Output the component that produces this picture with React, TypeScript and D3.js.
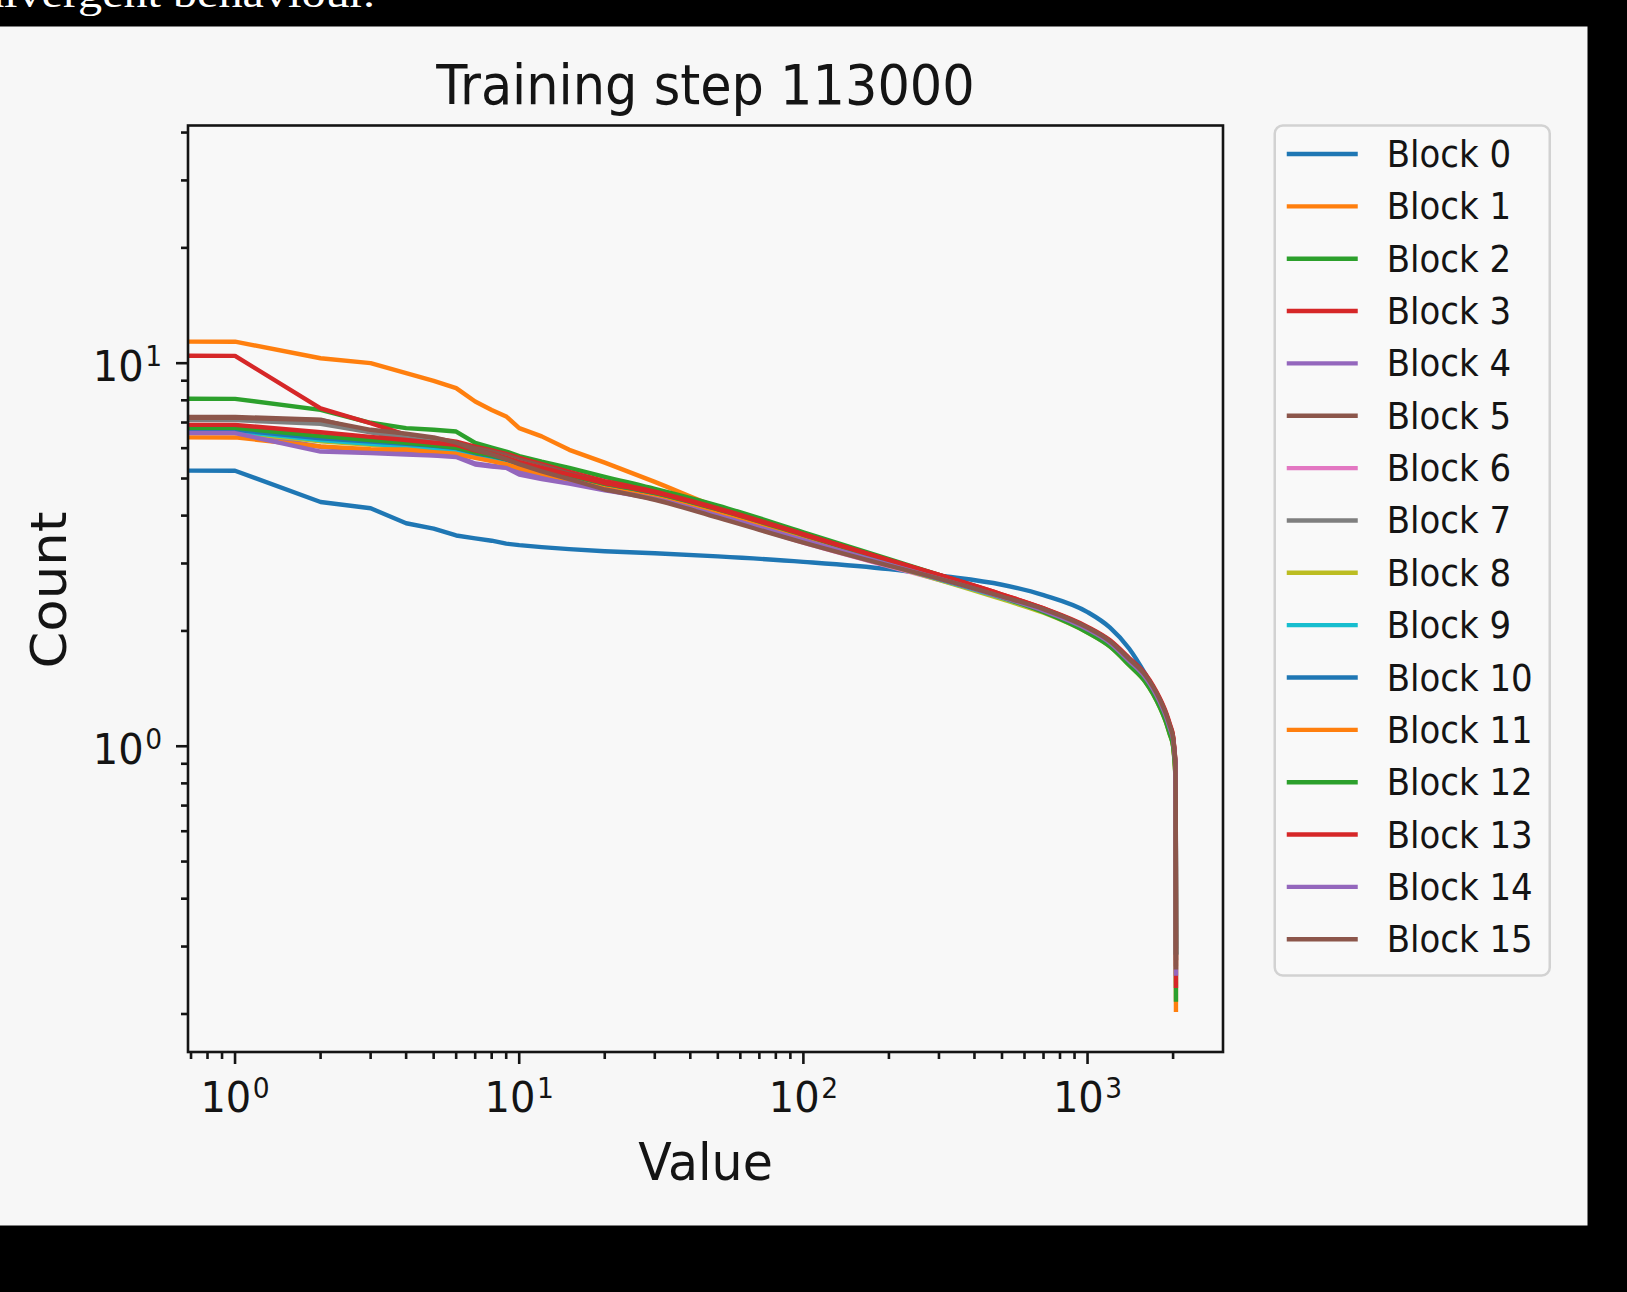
import React, { useMemo } from "react";
import * as d3 from "d3";

// ---------- data ----------
const TITLE = "Training step 113000";
const X_LABEL = "Value";
const Y_LABEL = "Count";
const BLOCK_NAMES = Array.from({ length: 16 }, (_, i) => `Block ${i}`);
const COLORS = [
  "#1f77b4", "#ff7f0e", "#2ca02c", "#d62728", "#9467bd", "#8c564b", "#e377c2", "#7f7f7f",
  "#bcbd22", "#17becf", "#1f77b4", "#ff7f0e", "#2ca02c", "#d62728", "#9467bd", "#8c564b",
];

// index (x) positions; x = 0 is non-positive and gets clipped like matplotlib's log scale
const XS = [0, 1, 2, 3, 4, 5, 6, 7, 8, 9, 10, 12, 15, 20, 30, 50, 100, 200, 300, 500, 700, 1000, 1200, 1400, 1600, 1700, 1800, 1900, 1950, 2000, 2020, 2035, 2044, 2047];

const B0 = [7.5, 5.24, 4.34, 4.18, 3.82, 3.70, 3.55, 3.49, 3.44, 3.38, 3.35, 3.31, 3.27, 3.23, 3.19, 3.13, 3.03, 2.90, 2.79, 2.64, 2.48, 2.24, 2.04, 1.80, 1.54, 1.42, 1.30, 1.17, 1.10, 1.03, 0.97, 0.90, 0.72, 0.29];
const B1 = [32.4, 11.38, 10.30, 10.0, 9.42, 8.99, 8.61, 7.94, 7.55, 7.26, 6.77, 6.44, 5.94, 5.50, 4.90, 4.20, 3.58, 3.04, 2.77, 2.46, 2.26, 2.00, 1.84, 1.65, 1.49, 1.39, 1.28, 1.16, 1.09, 1.02, 0.95, 0.88, 0.66, 0.27];
const B2 = [12.5, 8.07, 7.55, 6.99, 6.77, 6.70, 6.63, 6.19, 6.02, 5.88, 5.72, 5.53, 5.33, 5.05, 4.70, 4.25, 3.62, 3.08, 2.80, 2.48, 2.27, 2.00, 1.83, 1.64, 1.48, 1.38, 1.27, 1.15, 1.08, 1.01, 0.94, 0.86, 0.65, 0.29];
const B3 = [18.0, 10.45, 7.62, 6.97, 6.50, 6.36, 6.24, 6.06, 5.92, 5.80, 5.66, 5.45, 5.20, 4.92, 4.62, 4.18, 3.58, 3.06, 2.80, 2.49, 2.29, 2.04, 1.88, 1.69, 1.53, 1.43, 1.32, 1.20, 1.13, 1.06, 0.98, 0.91, 0.70, 0.30];
const B4 = [9.5, 6.62, 6.05, 5.90, 5.82, 5.76, 5.72, 5.47, 5.40, 5.34, 5.22, 5.08, 4.92, 4.70, 4.45, 4.02, 3.46, 2.98, 2.73, 2.44, 2.25, 2.01, 1.85, 1.67, 1.51, 1.41, 1.30, 1.18, 1.11, 1.04, 0.97, 0.90, 0.70, 0.28];
const B5 = [10.2, 7.24, 7.12, 6.62, 6.45, 6.30, 6.18, 6.00, 5.88, 5.75, 5.60, 5.40, 5.15, 4.85, 4.52, 4.05, 3.48, 2.99, 2.74, 2.46, 2.27, 2.03, 1.87, 1.68, 1.52, 1.42, 1.31, 1.19, 1.12, 1.05, 0.98, 0.91, 0.71, 0.29];
const B6 = [9.0, 6.72, 6.35, 6.20, 6.10, 6.02, 5.95, 5.78, 5.66, 5.55, 5.40, 5.22, 5.00, 4.70, 4.42, 3.98, 3.40, 2.95, 2.72, 2.44, 2.25, 2.01, 1.85, 1.66, 1.50, 1.40, 1.29, 1.17, 1.10, 1.03, 0.96, 0.89, 0.69, 0.28];
const B7 = [10.0, 7.10, 6.95, 6.60, 6.38, 6.22, 6.10, 5.90, 5.78, 5.66, 5.52, 5.32, 5.08, 4.80, 4.50, 4.05, 3.47, 2.99, 2.74, 2.45, 2.26, 2.02, 1.86, 1.67, 1.51, 1.41, 1.30, 1.18, 1.11, 1.04, 0.97, 0.90, 0.70, 0.29];
const B8 = [9.2, 6.60, 6.25, 6.12, 6.03, 5.96, 5.90, 5.72, 5.62, 5.52, 5.38, 5.20, 5.00, 4.74, 4.46, 4.03, 3.46, 2.97, 2.72, 2.42, 2.23, 1.98, 1.82, 1.63, 1.47, 1.37, 1.26, 1.14, 1.07, 1.00, 0.93, 0.86, 0.66, 0.28];
const B9 = [9.4, 6.65, 6.30, 6.16, 6.06, 5.99, 5.92, 5.74, 5.63, 5.53, 5.40, 5.22, 5.02, 4.75, 4.47, 4.04, 3.47, 2.98, 2.73, 2.44, 2.25, 2.00, 1.84, 1.65, 1.49, 1.39, 1.28, 1.16, 1.09, 1.02, 0.95, 0.88, 0.68, 0.29];
const B10 = [9.6, 6.70, 6.37, 6.24, 6.16, 6.09, 6.00, 5.82, 5.72, 5.60, 5.45, 5.26, 5.05, 4.77, 4.48, 4.05, 3.48, 2.99, 2.74, 2.45, 2.26, 2.01, 1.85, 1.66, 1.50, 1.40, 1.29, 1.17, 1.10, 1.03, 0.96, 0.89, 0.69, 0.29];
const B11 = [8.8, 6.40, 6.06, 5.96, 5.95, 5.86, 5.80, 5.66, 5.55, 5.45, 5.32, 5.15, 4.96, 4.72, 4.46, 4.05, 3.50, 3.01, 2.75, 2.45, 2.25, 1.99, 1.83, 1.64, 1.48, 1.38, 1.27, 1.15, 1.08, 1.01, 0.94, 0.86, 0.62, 0.205];
const B12 = [9.8, 6.78, 6.45, 6.30, 6.20, 6.10, 6.02, 5.85, 5.74, 5.62, 5.48, 5.30, 5.10, 4.84, 4.58, 4.15, 3.56, 3.04, 2.77, 2.45, 2.24, 1.98, 1.82, 1.63, 1.47, 1.37, 1.26, 1.14, 1.07, 1.00, 0.93, 0.85, 0.62, 0.218];
const B13 = [10.5, 6.90, 6.60, 6.42, 6.30, 6.20, 6.12, 5.92, 5.80, 5.66, 5.52, 5.33, 5.12, 4.86, 4.60, 4.16, 3.57, 3.06, 2.80, 2.49, 2.29, 2.05, 1.89, 1.70, 1.54, 1.44, 1.33, 1.21, 1.14, 1.06, 0.99, 0.92, 0.68, 0.237];
const B14 = [9.3, 6.57, 5.88, 5.83, 5.77, 5.74, 5.69, 5.44, 5.37, 5.33, 5.12, 4.98, 4.85, 4.66, 4.42, 4.00, 3.45, 2.98, 2.74, 2.45, 2.26, 2.02, 1.86, 1.67, 1.51, 1.41, 1.30, 1.18, 1.11, 1.04, 0.97, 0.90, 0.66, 0.255];
const B15 = [10.1, 7.20, 7.10, 6.70, 6.55, 6.40, 6.20, 5.95, 5.78, 5.62, 5.45, 5.22, 4.98, 4.68, 4.40, 3.95, 3.40, 2.96, 2.74, 2.46, 2.28, 2.04, 1.88, 1.69, 1.53, 1.43, 1.32, 1.20, 1.13, 1.05, 0.98, 0.91, 0.72, 0.265];

const SERIES = [B0, B1, B2, B3, B4, B5, B6, B7, B8, B9, B10, B11, B12, B13, B14, B15];

// beyond this index the (dense) sampled spectrum is drawn as a smooth curve
const SMOOTH_FROM = 20;

// ---------- layout ----------
const W = 1627;
const H = 1292;
const AX = { left: 188, right: 1223, top: 125.5, bottom: 1052 };
const STRETCH = 1.07; // the reference glyphs are slightly taller than wide
const FONT = "'DejaVu Sans', 'Bitstream Vera Sans', sans-serif";
const INK = "#141414";

function logDomain(vals: number[]): [number, number] {
  const pos = vals.filter((v) => v > 0);
  const lo = Math.log10(d3.min(pos) as number);
  const hi = Math.log10(d3.max(pos) as number);
  const pad = 0.05 * (hi - lo);
  return [Math.pow(10, lo - pad), Math.pow(10, hi + pad)];
}

function decadeTicks(domain: [number, number]): { v: number; major: boolean }[] {
  const out: { v: number; major: boolean }[] = [];
  const e0 = Math.floor(Math.log10(domain[0])) - 1;
  const e1 = Math.ceil(Math.log10(domain[1])) + 1;
  for (let e = e0; e <= e1; e++) {
    for (let m = 1; m <= 9; m++) {
      const v = m * Math.pow(10, e);
      if (v >= domain[0] * 0.999999 && v <= domain[1]) out.push({ v, major: m === 1 });
    }
  }
  return out;
}

function SText(props: {
  x: number; y: number; size: number; anchor?: string; rotate?: number; fill?: string;
  family?: string; children: React.ReactNode;
}) {
  const { x, y, size, anchor = "start", rotate = 0, fill = INK, family = FONT, children } = props;
  return (
    <text
      transform={`translate(${x},${y}) scale(1,${STRETCH}) rotate(${rotate})`}
      fontFamily={family}
      fontSize={size}
      textAnchor={anchor}
      fill={fill}
    >
      {children}
    </text>
  );
}

function Pow10({ v }: { v: number }) {
  return (
    <>
      10
      <tspan fontSize={26.5} dx={1.5} dy={-13.5}>
        {Math.round(Math.log10(v))}
      </tspan>
    </>
  );
}

export default function App() {
  const { xScale, yScale, paths, xTicks, yTicks } = useMemo(() => {
    const xDom = logDomain(XS);
    const yDom = logDomain(SERIES.flat());
    const xScale = d3.scaleLog().domain(xDom).range([AX.left, AX.right]);
    const yScale = d3.scaleLog().domain(yDom).range([AX.bottom, AX.top]);
    // non-positive x is clipped to a tiny positive value (matplotlib 'clip' behaviour)
    const px = (d: [number, number]) => xScale(d[0] > 0 ? d[0] : 1e-300);
    const py = (d: [number, number]) => yScale(d[1]);
    const straight = d3.line<[number, number]>().x(px).y(py);
    const smooth = d3.line<[number, number]>().x(px).y(py).curve(d3.curveMonotoneX);
    const paths = SERIES.map((ys) => {
      const pts = XS.map((x, i) => [x, ys[i]] as [number, number]);
      const head = pts.filter((p) => p[0] <= SMOOTH_FROM);
      const tail = pts.filter((p) => p[0] >= SMOOTH_FROM);
      const a = straight(head) as string;
      const b = (smooth(tail) as string).replace(/^M/, "L");
      return a + b;
    });
    return { xScale, yScale, paths, xTicks: decadeTicks(xDom), yTicks: decadeTicks(yDom) };
  }, []);

  const legendX = AX.right + 0.05 * (AX.right - AX.left);
  const legendTop = AX.top;
  const rowH = 52.35;
  const row0 = legendTop + 28.5;
  const legendH = 850;
  const legendW = 275;

  return (
    <div style={{ position: "absolute", left: 0, top: 0 }}>
      <svg width={W} height={H} style={{ display: "block" }}>
        <defs>
          <clipPath id="axclip">
            <rect x={AX.left} y={AX.top} width={AX.right - AX.left} height={AX.bottom - AX.top} />
          </clipPath>
        </defs>
        {/* frame of the screenshot */}
        <rect x={0} y={0} width={W} height={H} fill="#000" />
        <rect x={0} y={26.5} width={1587.5} height={1225.5 - 26.5} fill="#f7f7f7" />
        <text
          x={-20}
          y={7}
          fill="#ffffff"
          fontFamily="'Liberation Serif', 'DejaVu Serif', serif"
          fontSize={40}
          textLength={395}
          lengthAdjust="spacingAndGlyphs"
        >
          divergent behaviour.
        </text>

        {/* title */}
        <SText x={(AX.left + AX.right) / 2} y={104} size={51} anchor="middle">
          {TITLE}
        </SText>

        {/* axes background */}
        <rect x={AX.left} y={AX.top} width={AX.right - AX.left} height={AX.bottom - AX.top} fill="#f8f8f8" />

        {/* lines */}
        <g clipPath="url(#axclip)">
          {paths.map((p, i) => (
            <path
              key={i}
              d={p}
              fill="none"
              stroke={COLORS[i]}
              strokeWidth={4.4}
              strokeLinejoin="round"
              strokeLinecap="square"
            />
          ))}
        </g>

        {/* ticks */}
        <g stroke={INK} strokeWidth={2.6}>
          {xTicks.map((t, i) => {
            const x = xScale(t.v);
            return <line key={i} x1={x} x2={x} y1={AX.bottom} y2={AX.bottom + (t.major ? 12 : 7)} />;
          })}
          {yTicks.map((t, i) => {
            const y = yScale(t.v);
            return <line key={i} x1={AX.left} x2={AX.left - (t.major ? 12 : 7)} y1={y} y2={y} />;
          })}
        </g>
        {xTicks
          .filter((t) => t.major)
          .map((t, i) => (
            <SText key={i} x={xScale(t.v)} y={1112} size={40} anchor="middle">
              <Pow10 v={t.v} />
            </SText>
          ))}
        {yTicks
          .filter((t) => t.major)
          .map((t, i) => (
            <SText key={i} x={162} y={yScale(t.v) + 17.5} size={40} anchor="end">
              <Pow10 v={t.v} />
            </SText>
          ))}

        {/* spines */}
        <rect
          x={AX.left}
          y={AX.top}
          width={AX.right - AX.left}
          height={AX.bottom - AX.top}
          fill="none"
          stroke={INK}
          strokeWidth={2.6}
        />

        {/* axis labels */}
        <SText x={(AX.left + AX.right) / 2} y={1180} size={49} anchor="middle">
          {X_LABEL}
        </SText>
        <SText x={66} y={590} size={49.5} anchor="middle" rotate={-90}>
          {Y_LABEL}
        </SText>

        {/* legend */}
        <rect
          x={legendX}
          y={legendTop}
          width={legendW}
          height={legendH}
          rx={8}
          ry={8}
          fill="#f9f9f9"
          stroke="#d2d2d2"
          strokeWidth={2.5}
        />
        {BLOCK_NAMES.map((name, i) => {
          const cy = row0 + i * rowH;
          return (
            <g key={name}>
              <line x1={legendX + 12} x2={legendX + 83} y1={cy} y2={cy} stroke={COLORS[i]} strokeWidth={4.4} />
              <SText x={legendX + 112} y={cy + 13} size={34}>
                {name}
              </SText>
            </g>
          );
        })}
      </svg>
    </div>
  );
}
